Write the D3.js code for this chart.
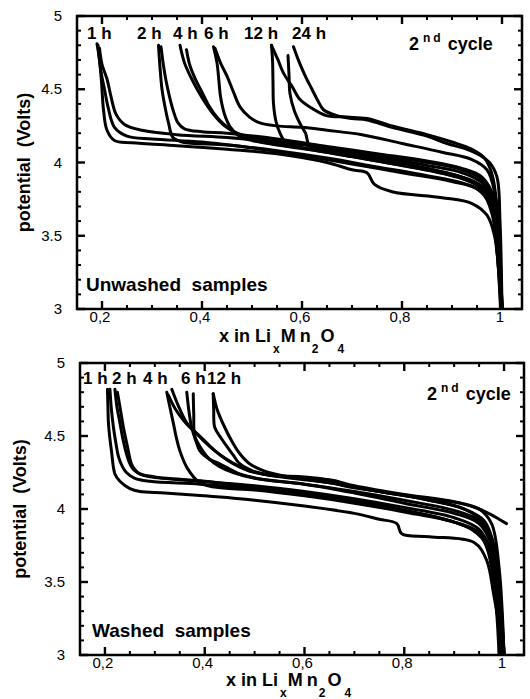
<!DOCTYPE html>
<html>
<head>
<meta charset="utf-8">
<script src="https://cdn.jsdelivr.net/npm/d3@7"></script>
<style>
html, body { margin:0; padding:0; background:#fff; }
svg { display:block; font-family: Arial, "Liberation Sans", Helvetica, sans-serif; }
</style>
</head>
<body>
<svg id="chart" width="530" height="699"></svg>
<script>
/* Second-cycle charge curves of Li_xMn2O4, unwashed (top) vs washed (bottom)
   samples. Each curve is [x, potential V]. */

/* ------------------------------------------------------------------ axes */
var X_DOMAIN = [0.15, 1.04];
var Y_DOMAIN = [3, 5];
var X_TICKS = [0.2, 0.4, 0.6, 0.8, 1];
var X_TICK_LABELS = ['0,2', '0,4', '0,6', '0,8', '1'];
var Y_TICKS = [3, 3.5, 4, 4.5, 5];
var Y_TICK_LABELS = ['3', '3.5', '4', '4.5', '5'];

/* ------------------------------------------------------ unwashed samples */
var UNW_1H_A = [[0.190,4.81],[0.195,4.70],[0.199,4.55],[0.203,4.36],[0.210,4.22],[0.225,4.15],[0.26,4.135],[0.35,4.115],[0.45,4.09],[0.55,4.06],[0.65,4.00],[0.70,3.95],[0.73,3.93],[0.745,3.85],[0.78,3.80],[0.88,3.76],[0.94,3.72],[0.97,3.64],[0.985,3.50],[0.995,3.20],[1.0,3.0]];
var UNW_1H_B = [[0.192,4.80],[0.198,4.62],[0.205,4.50],[0.212,4.38],[0.225,4.24],[0.25,4.18],[0.30,4.16],[0.40,4.14],[0.50,4.10],[0.60,4.05],[0.70,3.99],[0.80,3.93],[0.90,3.87],[0.95,3.82],[0.975,3.72],[0.99,3.50],[0.998,3.10],[1.0,3.0]];
var UNW_1H_C = [[0.195,4.78],[0.200,4.67],[0.210,4.57],[0.218,4.45],[0.228,4.33],[0.245,4.26],[0.28,4.22],[0.35,4.19],[0.45,4.17],[0.55,4.14],[0.65,4.10],[0.75,4.05],[0.85,4.00],[0.92,3.95],[0.96,3.88],[0.985,3.70],[0.995,3.30],[1.0,3.0]];
var UNW_2H_A = [[0.313,4.80],[0.316,4.65],[0.320,4.50],[0.326,4.38],[0.333,4.27],[0.342,4.17],[0.36,4.14],[0.45,4.12],[0.55,4.08],[0.65,4.03],[0.75,3.97],[0.85,3.91],[0.92,3.86],[0.96,3.80],[0.98,3.65],[0.99,3.40],[0.997,3.0]];
var UNW_2H_B = [[0.318,4.79],[0.323,4.66],[0.328,4.56],[0.335,4.45],[0.342,4.36],[0.352,4.27],[0.365,4.23],[0.40,4.21],[0.45,4.20],[0.55,4.16],[0.65,4.11],[0.75,4.06],[0.85,4.01],[0.92,3.96],[0.96,3.90],[0.985,3.75],[0.995,3.40],[1.0,3.0]];
var UNW_4H_A = [[0.356,4.80],[0.365,4.68],[0.378,4.58],[0.392,4.49],[0.408,4.40],[0.425,4.32],[0.445,4.25],[0.47,4.20],[0.50,4.17],[0.55,4.15],[0.65,4.10],[0.75,4.04],[0.85,3.98],[0.92,3.93],[0.96,3.86],[0.985,3.70],[0.995,3.30],[1.0,3.0]];
var UNW_4H_B = [[0.369,4.77],[0.376,4.66],[0.388,4.56],[0.400,4.48],[0.415,4.38],[0.432,4.30],[0.455,4.23],[0.48,4.18],[0.52,4.14],[0.60,4.10],[0.70,4.05],[0.80,3.99],[0.90,3.92],[0.95,3.86],[0.98,3.75],[0.992,3.50],[1.0,3.0]];
var UNW_6H_A = [[0.423,4.79],[0.430,4.68],[0.434,4.55],[0.437,4.45],[0.445,4.33],[0.457,4.24],[0.475,4.18],[0.50,4.15],[0.55,4.12],[0.65,4.07],[0.75,4.01],[0.85,3.95],[0.92,3.89],[0.96,3.82],[0.98,3.68],[0.99,3.40],[0.998,3.0]];
var UNW_6H_B = [[0.426,4.78],[0.437,4.68],[0.450,4.59],[0.463,4.48],[0.476,4.38],[0.495,4.31],[0.516,4.27],[0.55,4.25],[0.60,4.24],[0.65,4.22],[0.72,4.19],[0.80,4.13],[0.88,4.07],[0.94,4.02],[0.97,3.95],[0.985,3.80],[0.995,3.40],[1.0,3.0]];
var UNW_12H_A = [[0.539,4.80],[0.541,4.70],[0.542,4.55],[0.543,4.40],[0.548,4.28],[0.556,4.20],[0.569,4.13],[0.60,4.10],[0.70,4.04],[0.80,3.98],[0.90,3.91],[0.95,3.85],[0.975,3.75],[0.99,3.50],[0.998,3.0]];
var UNW_12H_B = [[0.539,4.80],[0.552,4.70],[0.563,4.61],[0.580,4.52],[0.596,4.43],[0.62,4.37],[0.649,4.32],[0.69,4.31],[0.73,4.30],[0.78,4.25],[0.85,4.19],[0.90,4.14],[0.94,4.09],[0.965,4.03],[0.98,3.92],[0.99,3.70],[0.997,3.30],[1.0,3.0]];
var UNW_24H_A = [[0.583,4.79],[0.595,4.68],[0.608,4.58],[0.620,4.50],[0.632,4.42],[0.643,4.36],[0.67,4.32],[0.70,4.30],[0.73,4.29],[0.78,4.24],[0.85,4.18],[0.89,4.13],[0.93,4.09],[0.956,4.05],[0.975,4.00],[0.99,3.90],[0.996,3.60],[1.0,3.0]];
var UNW_24H_B = [[0.572,4.73],[0.574,4.60],[0.576,4.47],[0.585,4.35],[0.597,4.26],[0.607,4.20],[0.616,4.11],[0.65,4.09],[0.75,4.03],[0.85,3.96],[0.92,3.90],[0.96,3.83],[0.98,3.70],[0.992,3.40],[0.998,3.0]];
var UNWASHED = [UNW_1H_A, UNW_1H_B, UNW_1H_C, UNW_2H_A, UNW_2H_B, UNW_4H_A, UNW_4H_B,
                UNW_6H_A, UNW_6H_B, UNW_12H_A, UNW_12H_B, UNW_24H_A, UNW_24H_B];
var UNWASHED_LABELS = ['1 h', '2 h', '4 h', '6 h', '12 h', '24 h'];

/* -------------------------------------------------------- washed samples */
var WSH_1H_A = [[0.205,4.82],[0.206,4.70],[0.207,4.59],[0.210,4.48],[0.213,4.40],[0.220,4.24],[0.230,4.19],[0.25,4.14],[0.27,4.12],[0.32,4.11],[0.40,4.09],[0.50,4.06],[0.60,4.02],[0.70,3.97],[0.75,3.93],[0.785,3.90],[0.795,3.83],[0.85,3.81],[0.94,3.77],[0.965,3.65],[0.979,3.42],[0.99,3.20],[0.998,3.0]];
var WSH_1H_B = [[0.210,4.82],[0.213,4.68],[0.217,4.56],[0.222,4.45],[0.227,4.36],[0.235,4.29],[0.243,4.25],[0.26,4.21],[0.29,4.19],[0.39,4.17],[0.50,4.14],[0.60,4.10],[0.70,4.05],[0.80,3.99],[0.88,3.93],[0.93,3.87],[0.96,3.78],[0.975,3.60],[0.985,3.30],[0.99,3.0]];
var WSH_2H_A = [[0.220,4.82],[0.224,4.70],[0.230,4.59],[0.236,4.48],[0.243,4.38],[0.250,4.31],[0.257,4.27],[0.27,4.24],[0.29,4.22],[0.39,4.19],[0.50,4.16],[0.60,4.12],[0.70,4.07],[0.80,4.01],[0.90,3.94],[0.95,3.86],[0.975,3.70],[0.99,3.40],[1.0,3.0]];
var WSH_2H_B = [[0.225,4.80],[0.231,4.68],[0.237,4.56],[0.245,4.43],[0.253,4.31],[0.260,4.27],[0.27,4.24],[0.30,4.22],[0.324,4.21],[0.40,4.19],[0.50,4.15],[0.60,4.11],[0.70,4.06],[0.80,3.99],[0.90,3.91],[0.95,3.83],[0.97,3.70],[0.985,3.40],[0.995,3.0]];
var WSH_4H_A = [[0.324,4.80],[0.330,4.70],[0.337,4.59],[0.343,4.49],[0.350,4.40],[0.365,4.28],[0.390,4.18],[0.42,4.15],[0.50,4.13],[0.60,4.09],[0.70,4.04],[0.80,3.98],[0.90,3.91],[0.95,3.84],[0.975,3.70],[0.988,3.40],[0.996,3.0]];
var WSH_4H_B = [[0.334,4.82],[0.348,4.70],[0.364,4.59],[0.380,4.53],[0.397,4.47],[0.420,4.40],[0.444,4.34],[0.47,4.29],[0.49,4.26],[0.52,4.24],[0.60,4.21],[0.65,4.20],[0.70,4.16],[0.80,4.10],[0.90,4.05],[0.95,4.00],[0.975,3.90],[0.99,3.60],[1.0,3.0]];
var WSH_4H_C = [[0.327,4.78],[0.342,4.68],[0.357,4.61],[0.373,4.55],[0.390,4.50],[0.42,4.40],[0.457,4.31],[0.49,4.26],[0.55,4.22],[0.65,4.18],[0.75,4.12],[0.85,4.06],[0.92,4.00],[0.96,3.90],[0.98,3.70],[0.992,3.30],[0.998,3.0]];
var WSH_6H_A = [[0.364,4.80],[0.368,4.68],[0.373,4.57],[0.377,4.52],[0.384,4.45],[0.390,4.40],[0.410,4.34],[0.430,4.31],[0.47,4.24],[0.52,4.20],[0.60,4.17],[0.70,4.12],[0.80,4.06],[0.90,3.99],[0.95,3.92],[0.975,3.80],[0.99,3.50],[1.0,3.0]];
var WSH_6H_B = [[0.377,4.79],[0.378,4.65],[0.380,4.50],[0.392,4.42],[0.410,4.34],[0.430,4.29],[0.457,4.25],[0.50,4.21],[0.60,4.17],[0.70,4.11],[0.80,4.04],[0.90,3.97],[0.95,3.90],[0.975,3.75],[0.99,3.40],[0.998,3.0]];
var WSH_12H_A = [[0.417,4.79],[0.418,4.68],[0.420,4.56],[0.432,4.49],[0.444,4.43],[0.457,4.37],[0.470,4.31],[0.497,4.26],[0.531,4.23],[0.60,4.22],[0.644,4.20],[0.677,4.16],[0.75,4.12],[0.85,4.07],[0.911,4.04],[0.95,4.00],[0.975,3.96],[0.99,3.93],[1.005,3.90]];
var WSH_12H_B = [[0.417,4.79],[0.425,4.68],[0.44,4.56],[0.455,4.46],[0.47,4.38],[0.49,4.31],[0.52,4.26],[0.57,4.22],[0.65,4.18],[0.75,4.12],[0.85,4.06],[0.92,4.00],[0.96,3.92],[0.98,3.75],[0.99,3.45],[1.0,3.0]];
var WASHED = [WSH_1H_A, WSH_1H_B, WSH_2H_A, WSH_2H_B, WSH_4H_A, WSH_4H_B, WSH_4H_C,
              WSH_6H_A, WSH_6H_B, WSH_12H_A, WSH_12H_B];
var WASHED_LABELS = ['1 h', '2 h', '4 h', '6 h', '12 h'];

(function(){
'use strict';
var svg = d3.select('#chart');

function panel(o){
    var x = d3.scaleLinear().domain(X_DOMAIN).range([o.left, o.right]);
    var y = d3.scaleLinear().domain(Y_DOMAIN).range([o.bottom, o.top]);
    var g = svg.append('g');

    g.append('clipPath').attr('id', o.id + '-clip').append('rect')
        .attr('x', o.left).attr('y', o.top)
        .attr('width', o.right - o.left).attr('height', o.bottom - o.top);

    var line = d3.line()
        .x(function(d){ return x(d[0]); })
        .y(function(d){ return y(d[1]); })
        .curve(d3.curveCatmullRom.alpha(0.5));

    g.append('g').attr('clip-path', 'url(#' + o.id + '-clip)')
        .selectAll('path').data(o.curves).join('path')
        .attr('d', line).attr('fill', 'none').attr('stroke', '#000')
        .attr('stroke-width', 3).attr('stroke-linejoin', 'round').attr('stroke-linecap', 'round');

    // frame with inward ticks on all four sides
    g.append('rect').attr('x', o.left).attr('y', o.top)
        .attr('width', o.right - o.left).attr('height', o.bottom - o.top)
        .attr('fill', 'none').attr('stroke', '#000').attr('stroke-width', 2.5);

    var xMinor = d3.range(0.25, 1.0, 0.05).filter(function(v){ return Math.abs(v*5 - Math.round(v*5)) > 1e-6; });
    var yMinor = d3.range(3.1, 5, 0.1).filter(function(v){ return Math.abs(v*2 - Math.round(v*2)) > 1e-6; });
    var ticks = g.append('g').attr('stroke', '#000');
    function xt(vals, len, w){
        vals.forEach(function(v){
            ticks.append('line').attr('x1', x(v)).attr('x2', x(v)).attr('y1', o.bottom).attr('y2', o.bottom - len).attr('stroke-width', w);
            ticks.append('line').attr('x1', x(v)).attr('x2', x(v)).attr('y1', o.top).attr('y2', o.top + len).attr('stroke-width', w);
        });
    }
    function yt(vals, len, w){
        vals.forEach(function(v){
            ticks.append('line').attr('y1', y(v)).attr('y2', y(v)).attr('x1', o.left).attr('x2', o.left + len).attr('stroke-width', w);
            ticks.append('line').attr('y1', y(v)).attr('y2', y(v)).attr('x1', o.right).attr('x2', o.right - len).attr('stroke-width', w);
        });
    }
    xt(X_TICKS, 8, 2.4); xt(xMinor, 4, 2);
    yt(Y_TICKS, 8, 2.4); yt(yMinor, 4, 2);

    g.selectAll('text.xl').data(X_TICKS).join('text').attr('class', 'xl')
        .attr('x', function(d){ return x(d) - 2; }).attr('y', o.bottom + 13)
        .attr('text-anchor', 'middle').attr('font-size', 15)
        .text(function(d, i){ return X_TICK_LABELS[i]; });
    g.selectAll('text.yl').data(Y_TICKS).join('text').attr('class', 'yl')
        .attr('x', o.left - 15).attr('y', function(d){ return y(d) + 5; })
        .attr('text-anchor', 'end').attr('font-size', 15)
        .text(function(d, i){ return Y_TICK_LABELS[i]; });

    // y title
    g.append('text').attr('transform', 'translate(' + o.yTitleX + ',' + ((o.top + o.bottom)/2) + ') rotate(-90)')
        .attr('text-anchor', 'middle').attr('font-size', 18).attr('font-weight', 'bold')
        .attr('xml:space', 'preserve').text('potential  (Volts)');

    // x title with subscripts
    var t = g.append('text').attr('x', o.xTitleX).attr('y', o.bottom + o.xTitleDy)
        .attr('font-size', 18).attr('font-weight', 'bold');
    t.append('tspan').text('x in Li');
    t.append('tspan').attr('dx', 2).attr('dy', 11).attr('font-size', 12).text('x');
    t.append('tspan').attr('dx', 1).attr('dy', -11).text('M');
    t.append('tspan').attr('dx', 4).text('n');
    t.append('tspan').attr('dx', 1).attr('dy', 11).attr('font-size', 12).text('2');
    t.append('tspan').attr('dx', 2).attr('dy', -11).text('O');
    t.append('tspan').attr('dx', 3).attr('dy', 11).attr('font-size', 12).text('4');

    // duration labels over the curve starts
    g.selectAll('text.hl').data(o.labels).join('text').attr('class', 'hl')
        .attr('x', function(d, i){ return o.labelX[i]; }).attr('y', o.top + o.labelDy)
        .attr('font-size', 17).attr('font-weight', 'bold')
        .text(function(d){ return d; });

    var c = g.append('text').attr('x', o.cycleX).attr('y', o.top + o.cycleDy)
        .attr('font-size', 18).attr('font-weight', 'bold');
    c.append('tspan').text('2');
    c.append('tspan').attr('dx', 4).attr('dy', -8).attr('font-size', 12).attr('letter-spacing', 3).text('nd');
    c.append('tspan').attr('dx', 4).attr('dy', 8).text('cycle');

    g.append('text').attr('x', o.sampleX).attr('y', o.bottom - 18)
        .attr('font-size', 19).attr('font-weight', 'bold')
        .attr('xml:space', 'preserve').text(o.sampleText);
}

panel({ id:'unw', left:77, right:522, top:16, bottom:309, curves:UNWASHED,
        labels:UNWASHED_LABELS, labelX:[87,137,173,204,244,292], labelDy:23,
        cycleX:409, cycleDy:34, sampleX:86, sampleText:'Unwashed  samples',
        yTitleX:30, xTitleX:219, xTitleDy:33 });
panel({ id:'wsh', left:80, right:524, top:363, bottom:655, curves:WASHED,
        labels:WASHED_LABELS, labelX:[83,112,143,181,207], labelDy:21,
        cycleX:427, cycleDy:37, sampleX:92, sampleText:'Washed  samples',
        yTitleX:26, xTitleX:226, xTitleDy:31 });
})();
</script>
</body>
</html>
